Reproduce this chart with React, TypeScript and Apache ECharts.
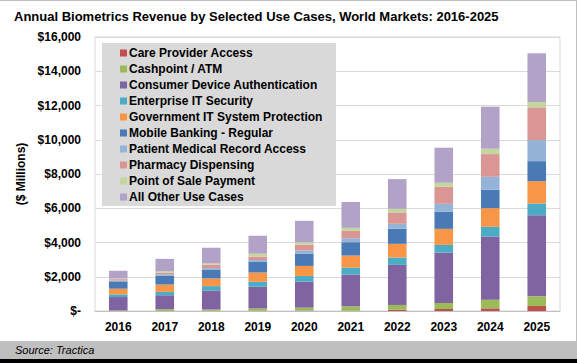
import React, { useEffect, useRef } from "react";
import * as echarts from "echarts";

const years = ["2016", "2017", "2018", "2019", "2020", "2021", "2022", "2023", "2024", "2025"];
const seriesNames = [
  "Care Provider Access",
  "Cashpoint / ATM",
  "Consumer Device Authentication",
  "Enterprise IT Security",
  "Government IT System Protection",
  "Mobile Banking - Regular",
  "Patient Medical Record Access",
  "Pharmacy Dispensing",
  "Point of Sale Payment",
  "All Other Use Cases",
];
const careProvider = [5, 5, 10, 10, 20, 20, 80, 117, 156, 290];
const cashpoint = [30, 97, 78, 136, 175, 253, 273, 351, 507, 565];
const consumerDevice = [780, 819, 1111, 1267, 1521, 1852, 2340, 2944, 3685, 4740];
const enterpriseIT = [156, 195, 253, 292, 331, 410, 429, 448, 565, 680];
const governmentIT = [331, 429, 448, 546, 585, 702, 800, 936, 1092, 1306];
const mobileBanking = [429, 526, 526, 644, 721, 780, 877, 995, 1072, 1170];
const patientMedical = [50, 78, 78, 78, 175, 234, 292, 468, 760, 1230];
const pharmacy = [78, 97, 195, 195, 351, 429, 663, 995, 1326, 1910];
const pointOfSale = [40, 78, 78, 175, 136, 175, 214, 234, 312, 312];
const allOther = [450, 720, 917, 1053, 1250, 1510, 1735, 2048, 2457, 2846];

const seriesValues = [
  careProvider,
  cashpoint,
  consumerDevice,
  enterpriseIT,
  governmentIT,
  mobileBanking,
  patientMedical,
  pharmacy,
  pointOfSale,
  allOther,
];
const colors = [
  "#c0504d",
  "#9bbb59",
  "#8064a2",
  "#4bacc6",
  "#f79646",
  "#4a7ab5",
  "#95b3d7",
  "#d99694",
  "#c3d69b",
  "#b3a2c7",
];

const FONT = "'Liberation Sans', Arial, sans-serif";

export default function App() {
  const ref = useRef<HTMLDivElement>(null);
  useEffect(() => {
    document.body.style.margin = "0";
    if (!ref.current) return;
    const chart = echarts.init(ref.current, undefined, { renderer: "svg" });
    chart.setOption({
      animation: false,
      backgroundColor: "#ffffff",
      color: colors,
      textStyle: { fontFamily: FONT },
      title: {
        text: "Annual Biometrics Revenue by Selected Use Cases, World Markets: 2016-2025",
        left: 9,
        top: 5,
        textStyle: { fontSize: 13, fontWeight: "bold", color: "#000", fontFamily: FONT },
      },
      grid: {
        left: 95,
        right: 17,
        top: 37,
        bottom: 52,
        show: true,
        borderColor: "#d9d9d9",
        borderWidth: 1,
        containLabel: false,
      },
      legend: {
        orient: "vertical",
        left: 120,
        top: 46,
        padding: 0,
        itemWidth: 7,
        itemHeight: 7,
        itemGap: 2,
        icon: "rect",
        data: seriesNames,
        textStyle: {
          fontSize: 12,
          fontWeight: "bold",
          color: "#000",
          fontFamily: FONT,
          lineHeight: 14,
          padding: [0, 0, 0, -3],
        },
      },
      xAxis: {
        type: "category",
        data: years,
        axisTick: { show: false },
        axisLine: { lineStyle: { color: "#bfbfbf" } },
        axisLabel: { fontSize: 12, fontWeight: "bold", color: "#000", margin: 10, fontFamily: FONT },
      },
      yAxis: {
        type: "value",
        min: 0,
        max: 16000,
        interval: 2000,
        name: "($ Millions)",
        nameLocation: "middle",
        nameGap: 66,
        nameTextStyle: { fontSize: 12, fontWeight: "bold", color: "#000", fontFamily: FONT },
        axisLine: { show: false },
        axisTick: { show: false },
        splitLine: { lineStyle: { color: "#d9d9d9" } },
        axisLabel: {
          fontSize: 12,
          fontWeight: "bold",
          color: "#000",
          margin: 14,
          fontFamily: FONT,
          formatter: (v: number) => (v === 0 ? "$-" : "$" + v.toLocaleString("en-US")),
        },
      },
      graphic: [
        {
          type: "rect",
          z: 1,
          silent: true,
          shape: { x: 102, y: 43, width: 234, height: 163 },
          style: { fill: "#d9d9d9" },
        },
        {
          type: "rect",
          z: 1,
          silent: true,
          shape: { x: 0, y: 341, width: 577, height: 18 },
          style: { fill: "#bfbfbf" },
        },
        {
          type: "rect",
          z: 1,
          silent: true,
          shape: { x: 0, y: 359, width: 577, height: 4 },
          style: { fill: "#000000" },
        },
        {
          type: "line",
          z: 1,
          silent: true,
          shape: { x1: 0, y1: 0.5, x2: 577, y2: 0.5 },
          style: { stroke: "#bfbfbf", lineWidth: 1 },
        },
        {
          type: "line",
          z: 1,
          silent: true,
          shape: { x1: 576.5, y1: 0, x2: 576.5, y2: 341 },
          style: { stroke: "#bfbfbf", lineWidth: 1 },
        },
        {
          type: "text",
          z: 2,
          x: 15,
          y: 350,
          style: {
            text: "Source: Tractica",
            fontSize: 11,
            fontStyle: "italic",
            fontFamily: FONT,
            fill: "#000",
            verticalAlign: "middle",
          },
        },
      ],
      series: seriesNames.map((name, i) => ({
        name,
        type: "bar",
        stack: "total",
        barWidth: "40%",
        data: seriesValues[i],
        itemStyle: { color: colors[i] },
      })),
    });
    return () => chart.dispose();
  }, []);
  return <div ref={ref} style={{ width: 577, height: 363 }} />;
}
